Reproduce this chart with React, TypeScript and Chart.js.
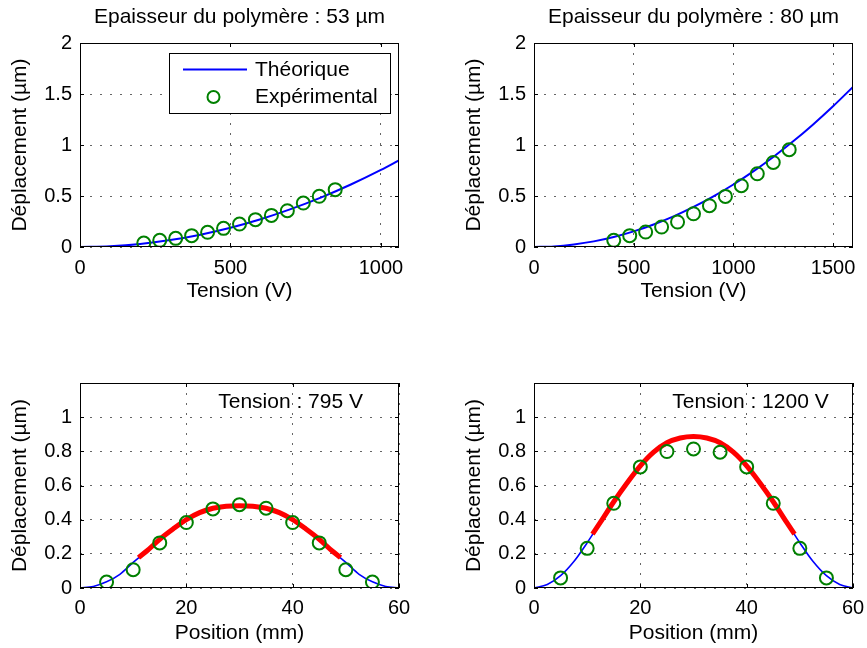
import React, { useEffect, useRef } from "react";
import { Chart, registerables } from "chart.js";

Chart.register(...registerables);

const FONT = "'Liberation Sans', Arial, Helvetica, sans-serif";
Chart.defaults.font.family = FONT;
Chart.defaults.color = "#000";

// ---------- Data ----------
const title53 = "Epaisseur du polymère : 53 µm";
const title80 = "Epaisseur du polymère : 80 µm";
const xLabelTension = "Tension (V)";
const xLabelPosition = "Position (mm)";
const yLabel = "Déplacement (µm)";
const legendTheo = "Théorique";
const legendExp = "Expérimental";
const note795 = "Tension : 795 V";
const note1200 = "Tension : 1200 V";

// Top-left: 53 µm
const theo53X = [0, 100, 200, 300, 400, 500, 600, 700, 800, 900, 1000, 1060];
const theo53Y = [0, 0.008, 0.03, 0.068, 0.121, 0.189, 0.272, 0.371, 0.484, 0.613, 0.756, 0.85];
const exp53X = [212, 265, 318, 371, 424, 477, 530, 583, 636, 689, 742, 795, 848];
const exp53Y = [0.039, 0.065, 0.085, 0.111, 0.144, 0.183, 0.225, 0.268, 0.31, 0.356, 0.431, 0.497, 0.562];

// Top-right: 80 µm
const theo80X = [0, 100, 200, 300, 400, 500, 600, 700, 800, 900, 1000, 1100, 1200, 1300, 1400, 1500, 1600];
const theo80Y = [0, 0.006, 0.025, 0.055, 0.098, 0.153, 0.221, 0.3, 0.393, 0.497, 0.613, 0.742, 0.883, 1.036, 1.202, 1.38, 1.57];
const exp80X = [400, 480, 560, 640, 720, 800, 880, 960, 1040, 1120, 1200, 1280];
const exp80Y = [0.065, 0.111, 0.147, 0.196, 0.245, 0.326, 0.405, 0.496, 0.601, 0.718, 0.829, 0.954];

// Bottom: profiles
const profileX = [0, 2.5, 5, 7.5, 10, 12.5, 15, 17.5, 20, 22.5, 25, 27.5, 30, 32.5, 35, 37.5, 40, 42.5, 45, 47.5, 50, 52.5, 55, 57.5, 60];
const profile795Y = [0, 0.009, 0.036, 0.08, 0.15, 0.215, 0.285, 0.345, 0.4, 0.441, 0.467, 0.479, 0.482, 0.479, 0.467, 0.441, 0.4, 0.345, 0.285, 0.215, 0.15, 0.08, 0.036, 0.009, 0];
const profile1200Y = [0, 0.02, 0.072, 0.155, 0.265, 0.385, 0.505, 0.615, 0.715, 0.795, 0.85, 0.878, 0.887, 0.878, 0.85, 0.795, 0.715, 0.615, 0.505, 0.385, 0.265, 0.155, 0.072, 0.02, 0];
const fitX = [11, 12.5, 15, 17.5, 20, 22.5, 25, 27.5, 30, 32.5, 35, 37.5, 40, 42.5, 45, 47.5, 49];
const fit795Y = [0.178, 0.215, 0.285, 0.345, 0.4, 0.441, 0.467, 0.479, 0.482, 0.479, 0.467, 0.441, 0.4, 0.345, 0.285, 0.215, 0.178];
const fit1200Y = [0.315, 0.385, 0.505, 0.615, 0.715, 0.795, 0.85, 0.878, 0.887, 0.878, 0.85, 0.795, 0.715, 0.615, 0.505, 0.385, 0.315];
const measX = [5, 10, 15, 20, 25, 30, 35, 40, 45, 50, 55];
const meas795Y = [0.035, 0.107, 0.264, 0.383, 0.463, 0.488, 0.467, 0.383, 0.264, 0.107, 0.035];
const meas1200Y = [0.059, 0.232, 0.496, 0.709, 0.799, 0.814, 0.795, 0.709, 0.496, 0.232, 0.059];

// Ticks
const xTicks53 = [0, 500, 1000];
const xTicks80 = [0, 500, 1000, 1500];
const yTicksTop = [0, 0.5, 1, 1.5, 2];
const xTicksPos = [0, 20, 40, 60];
const yTicksBottom = [0, 0.2, 0.4, 0.6, 0.8, 1];

// ---------- Styles ----------
const BLUE = "rgb(0,0,255)";
const RED = "rgb(255,0,0)";
const GREEN = "rgb(0,128,0)";
const GRID = "rgba(0,0,0,0.6)";

type Panel = {
  left: number; top: number; w: number; h: number;
  padTop: number; padRight: number; yAxisW: number; xAxisH: number;
  yTitlePad: number; xTitlePad: number; xTickPad: number;
  xMin: number; xMax: number; yMin: number; yMax: number;
  xTicks: number[]; yTicks: number[];
  xLabel: string;
  title?: string; note?: string; legend?: boolean;
  datasets: any[];
};

const pts = (xs: number[], ys: number[]) => xs.map((x, i) => ({ x, y: ys[i] }));

const expSet = (xs: number[], ys: number[]) => ({
  data: pts(xs, ys), showLine: false, pointRadius: 6.5, pointBorderWidth: 2,
  pointBackgroundColor: "rgba(0,0,0,0)", pointBorderColor: GREEN, pointStyle: "circle",
});
const curveSet = (xs: number[], ys: number[], color: string, width: number) => ({
  data: pts(xs, ys), showLine: true, pointRadius: 0, borderColor: color, borderWidth: width,
  cubicInterpolationMode: "monotone", fill: false, borderCapStyle: "butt",
});

const panels: Panel[] = [
  {
    left: 0, top: 0, w: 440, h: 320, padTop: 43, padRight: 41, yAxisW: 80, xAxisH: 73,
    yTitlePad: 7.4, xTitlePad: 15.9, xTickPad: 9,
    xMin: 0, xMax: 1060, yMin: 0, yMax: 2, xTicks: xTicks53, yTicks: yTicksTop,
    xLabel: xLabelTension, title: title53, legend: true,
    datasets: [expSet(exp53X, exp53Y), curveSet(theo53X, theo53Y, BLUE, 2)],
  },
  {
    left: 430, top: 0, w: 447, h: 320, padTop: 43, padRight: 24, yAxisW: 104, xAxisH: 73,
    yTitlePad: 32, xTitlePad: 15.9, xTickPad: 9,
    xMin: 0, xMax: 1600, yMin: 0, yMax: 2, xTicks: xTicks80, yTicks: yTicksTop,
    xLabel: xLabelTension, title: title80,
    datasets: [expSet(exp80X, exp80Y), curveSet(theo80X, theo80Y, BLUE, 2)],
  },
  {
    left: 0, top: 320, w: 440, h: 328, padTop: 63, padRight: 41, yAxisW: 80, xAxisH: 60,
    yTitlePad: 7.4, xTitlePad: 1.9, xTickPad: 8,
    xMin: 0, xMax: 60, yMin: 0, yMax: 1.2, xTicks: xTicksPos, yTicks: yTicksBottom,
    xLabel: xLabelPosition, note: note795,
    datasets: [expSet(measX, meas795Y), curveSet(fitX, fit795Y, RED, 5), curveSet(profileX, profile795Y, BLUE, 1.6)],
  },
  {
    left: 430, top: 320, w: 447, h: 328, padTop: 63, padRight: 24, yAxisW: 104, xAxisH: 60,
    yTitlePad: 32, xTitlePad: 1.9, xTickPad: 8,
    xMin: 0, xMax: 60, yMin: 0, yMax: 1.2, xTicks: xTicksPos, yTicks: yTicksBottom,
    xLabel: xLabelPosition, note: note1200,
    datasets: [expSet(measX, meas1200Y), curveSet(fitX, fit1200Y, RED, 5), curveSet(profileX, profile1200Y, BLUE, 1.6)],
  },
];

const font = (s: number) => `${s}px ${FONT}`;

function framePlugin(p: Panel) {
  return {
    id: "frame",
    afterDraw(chart: any) {
      const { ctx, chartArea: a, scales } = chart;
      const xs = scales.x, ys = scales.y;
      ctx.save();
      ctx.strokeStyle = "#000";
      ctx.lineWidth = 1;
      ctx.setLineDash([]);
      ctx.beginPath();
      const tl = 4;
      for (const v of p.xTicks) {
        const px = Math.round(xs.getPixelForValue(v)) + 0.5;
        ctx.moveTo(px, a.bottom); ctx.lineTo(px, a.bottom - tl);
        ctx.moveTo(px, a.top); ctx.lineTo(px, a.top + tl);
      }
      for (const v of p.yTicks) {
        const py = Math.round(ys.getPixelForValue(v)) + 0.5;
        ctx.moveTo(a.left, py); ctx.lineTo(a.left + tl, py);
        ctx.moveTo(a.right, py); ctx.lineTo(a.right - tl, py);
      }
      ctx.stroke();
      ctx.strokeRect(Math.round(a.left) + 0.5, Math.round(a.top) + 0.5, Math.round(a.right - a.left) - 1, Math.round(a.bottom - a.top) - 1);

      ctx.fillStyle = "#000";
      if (p.title) {
        ctx.font = font(21);
        ctx.textAlign = "center";
        ctx.textBaseline = "middle";
        ctx.fillText(p.title, (a.left + a.right) / 2, a.top - 25.5);
      }
      if (p.note) {
        ctx.font = font(21);
        ctx.textAlign = "left";
        ctx.textBaseline = "middle";
        ctx.fillText(p.note, xs.getPixelForValue(26), ys.getPixelForValue(1.09));
      }
      if (p.legend) {
        const lx = a.left + 89, ly = a.top + 10, lw = 221, lh = 60;
        ctx.fillStyle = "#fff";
        ctx.fillRect(lx, ly, lw, lh);
        ctx.strokeStyle = "#000";
        ctx.lineWidth = 1;
        ctx.strokeRect(lx + 0.5, ly + 0.5, lw, lh);
        ctx.strokeStyle = BLUE;
        ctx.lineWidth = 2;
        ctx.beginPath();
        ctx.moveTo(lx + 14, ly + 16.5); ctx.lineTo(lx + 78, ly + 16.5);
        ctx.stroke();
        ctx.strokeStyle = GREEN;
        ctx.beginPath();
        ctx.arc(lx + 44.5, ly + 44, 6, 0, Math.PI * 2);
        ctx.stroke();
        ctx.fillStyle = "#000";
        ctx.font = font(21);
        ctx.textAlign = "left";
        ctx.textBaseline = "middle";
        ctx.fillText(legendTheo, lx + 86, ly + 17);
        ctx.fillText(legendExp, lx + 86, ly + 44);
      }
      ctx.restore();
    },
  };
}

function buildChart(canvas: HTMLCanvasElement, p: Panel) {
  return new Chart(canvas, {
    type: "scatter",
    data: { datasets: p.datasets },
    plugins: [framePlugin(p)],
    options: {
      animation: false,
      responsive: false,
      devicePixelRatio: 1,
      events: [],
      layout: { padding: { top: p.padTop, right: p.padRight, left: 0, bottom: 0 } },
      plugins: { legend: { display: false }, tooltip: { enabled: false }, title: { display: false } },
      scales: {
        x: {
          type: "linear", min: p.xMin, max: p.xMax,
          afterBuildTicks: (s: any) => { s.ticks = p.xTicks.map((v) => ({ value: v })); },
          afterFit: (s: any) => { s.height = p.xAxisH; },
          grid: { color: GRID, lineWidth: 1, drawTicks: false },
          border: { display: false, dash: [2, 8] },
          ticks: { padding: p.xTickPad, autoSkip: false, maxRotation: 0, font: { size: 20 }, color: "#000", callback: (v: any) => String(v) },
          title: { display: true, text: p.xLabel, font: { size: 21 }, color: "#000", padding: { top: 0, bottom: p.xTitlePad } },
        },
        y: {
          type: "linear", min: p.yMin, max: p.yMax,
          afterBuildTicks: (s: any) => { s.ticks = p.yTicks.map((v) => ({ value: v })); },
          afterFit: (s: any) => { s.width = p.yAxisW; },
          grid: { color: GRID, lineWidth: 1, drawTicks: false },
          border: { display: false, dash: [2, 8] },
          ticks: { padding: 8, autoSkip: false, font: { size: 20 }, color: "#000", callback: (v: any) => String(v) },
          title: { display: true, text: yLabel, font: { size: 21 }, color: "#000", padding: { top: p.yTitlePad, bottom: 0 } },
        },
      },
    } as any,
  });
}

export default function App() {
  const refs = useRef<(HTMLCanvasElement | null)[]>([]);
  useEffect(() => {
    const charts = panels.map((p, i) => buildChart(refs.current[i] as HTMLCanvasElement, p));
    return () => charts.forEach((c) => c.destroy());
  }, []);
  return (
    <div style={{ position: "absolute", left: 0, top: 0, width: 867, height: 648, overflow: "hidden", background: "#fff" }}>
      {panels.map((p, i) => (
        <canvas
          key={i}
          ref={(el) => { refs.current[i] = el; }}
          width={p.w}
          height={p.h}
          style={{ position: "absolute", left: p.left, top: p.top, width: p.w, height: p.h, display: "block" }}
        />
      ))}
    </div>
  );
}
